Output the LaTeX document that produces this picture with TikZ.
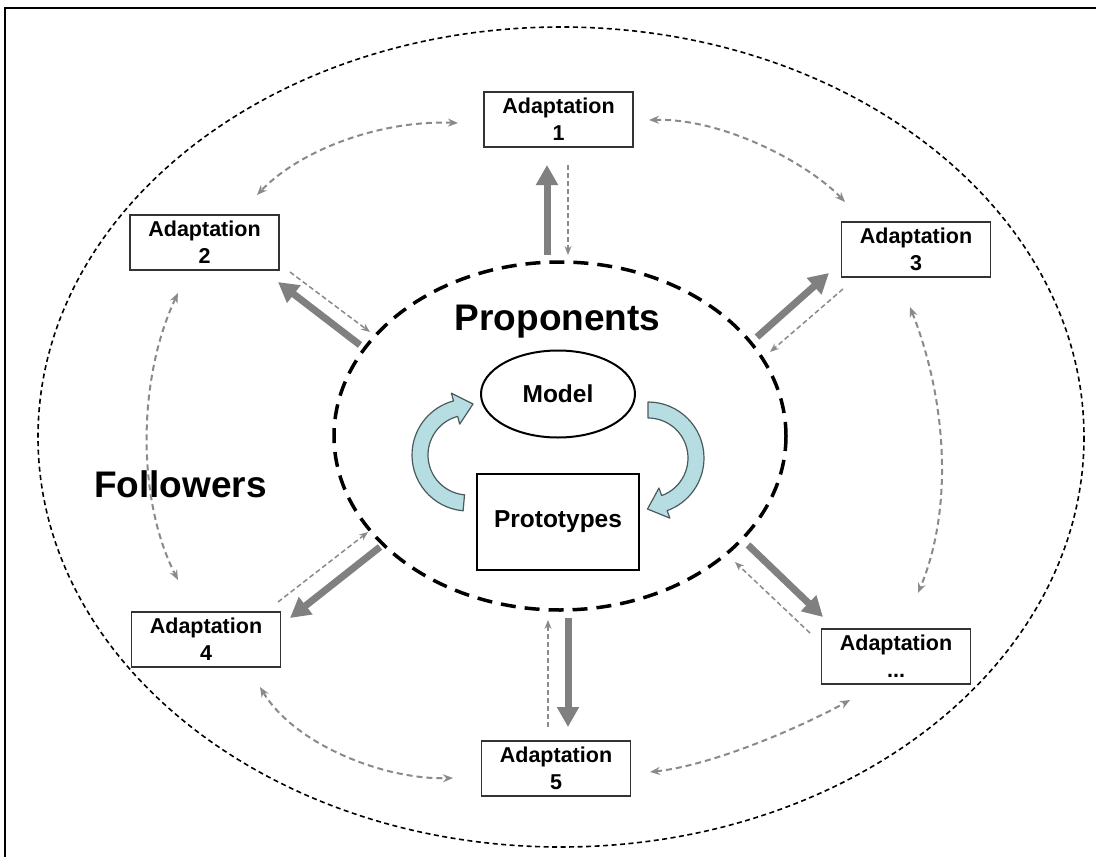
\documentclass[tikz,border=0pt]{standalone}
\usepackage{fontspec}
\setmainfont{Liberation Sans}
\usetikzlibrary{arrows.meta,shapes.geometric}
\definecolor{arrowgray}{HTML}{808080}
\definecolor{dashgray}{HTML}{8A8A8A}
\definecolor{cyanfill}{HTML}{B6DEE2}
\definecolor{cyanline}{HTML}{4A5A5C}
\definecolor{boxline}{HTML}{333333}
\begin{document}
\begin{tikzpicture}[x=1pt,y=-1pt,
  adapt/.style={draw=boxline, line width=1.8pt, fill=white, minimum width=149pt,
    minimum height=55pt, inner sep=0pt, align=center,
    font=\fontsize{21.5}{27}\selectfont\bfseries},
  bigarrow/.style={draw=arrowgray, line width=7pt, -{Triangle[length=20pt,width=21pt]}},
  backarrow/.style={draw=dashgray, line width=1.5pt, dash pattern=on 5pt off 3pt,
    -{Stealth[length=9pt,width=7pt]}},
  linkarrow/.style={draw=dashgray, line width=2pt, dash pattern=on 6pt off 4pt,
    {Stealth[length=10pt,width=8pt]}-{Stealth[length=10pt,width=8pt]}},
  cyanarrow/.style={fill=cyanfill, draw=cyanline, line width=1.2pt, line join=round},
  bigtitle/.style={font=\fontsize{37}{40}\selectfont\bfseries, inner sep=0pt, anchor=base}
]
\useasboundingbox (0,0) rectangle (1096,857);
\fill[white] (0,0) rectangle (1096,857);
% frame
\draw[line width=2.5pt] (5,857) -- (5,8) -- (1096,8);

% outer and inner dashed ellipses
\draw[line width=1.6pt, dash pattern=on 5pt off 3.5pt] (561,437) ellipse [x radius=523, y radius=410];
\draw[line width=3.5pt, dash pattern=on 15pt off 9pt] (560,436) ellipse [x radius=226, y radius=174];

% inner content
\node[ellipse, draw=black, line width=2pt, minimum width=154pt, minimum height=87pt, inner sep=0pt,
  font=\fontsize{24.5}{28}\selectfont\bfseries] (model) at (558,394) {Model};
\node[draw=black, line width=2pt, minimum width=162pt, minimum height=96pt, inner sep=0pt,
  font=\fontsize{24.5}{28}\selectfont\bfseries] (proto) at (558,522) {Prototypes};

% cyan circular arrows
\begin{scope}[shift={(468,455)}]
  \draw[cyanarrow] (95:56) arc[start angle=95, end angle=255, radius=56] -- (255:64)
    -- (5,-51) -- (255:32) -- (255:40) arc[start angle=255, end angle=95, radius=40] -- cycle;
\end{scope}
\begin{scope}[shift={(648,458)}]
  \draw[cyanarrow] (-90:56) arc[start angle=-90, end angle=70, radius=56] -- (70:64)
    -- (-0.5,51) -- (70:32) -- (70:40) arc[start angle=70, end angle=-90, radius=40] -- cycle;
\end{scope}

% titles
\node[bigtitle] (proponents) at (557.5,330) {Proponents};
\node[bigtitle] (followers) at (180.5,497) {Followers};

% adaptation boxes
\node[adapt] (a1) at (558.5,119.5) {Adaptation\\1};
\node[adapt] (a2) at (204.5,242.5) {Adaptation\\2};
\node[adapt] (a3) at (916,249.5) {Adaptation\\3};
\node[adapt] (a4) at (206,639.5) {Adaptation\\4};
\node[adapt] (a5) at (556,768.5) {Adaptation\\5};
\node[adapt] (a6) at (896,656.5) {Adaptation\\...};

% arrow end points
\coordinate (t1s) at (547,255); \coordinate (t1e) at (547,165);
\coordinate (t2s) at (360,345); \coordinate (t2e) at (278,282);
\coordinate (t3s) at (757,337); \coordinate (t3e) at (829,273);
\coordinate (t4s) at (380,547); \coordinate (t4e) at (290,618);
\coordinate (t5s) at (568,618); \coordinate (t5e) at (568,727);
\coordinate (t6s) at (748,545); \coordinate (t6e) at (823,617);

\coordinate (d1s) at (568,165); \coordinate (d1e) at (568,255);
\coordinate (d2s) at (290,272); \coordinate (d2e) at (370,332);
\coordinate (d3s) at (843,289); \coordinate (d3e) at (770,352);
\coordinate (d4s) at (278,602); \coordinate (d4e) at (368,532);
\coordinate (d5s) at (548,727); \coordinate (d5e) at (548,620);
\coordinate (d6s) at (810,633); \coordinate (d6e) at (735,562);

\coordinate (c12a) at (458,123); \coordinate (c12b) at (257,195);
\coordinate (c13a) at (649,120); \coordinate (c13b) at (845,202);
\coordinate (c24a) at (178,293); \coordinate (c24b) at (178,580);
\coordinate (c36a) at (910,307); \coordinate (c36b) at (918,593);
\coordinate (c45a) at (260,687); \coordinate (c45b) at (453,778);
\coordinate (c56a) at (650,772); \coordinate (c56b) at (850,700);

% thick outgoing arrows
\foreach \i in {1,...,6} \draw[bigarrow] (t\i s) -- (t\i e);
% thin dashed return arrows
\foreach \i in {1,...,6} \draw[backarrow] (d\i s) -- (d\i e);

% curved links between adaptations
\draw[linkarrow] (c12a) .. controls (380,120) and (300,150) .. (c12b);
\draw[linkarrow] (c13a) .. controls (725,118) and (810,165) .. (c13b);
\draw[linkarrow] (c24a) .. controls (137,380) and (137,500) .. (c24b);
\draw[linkarrow] (c36a) .. controls (945,395) and (955,505) .. (c36b);
\draw[linkarrow] (c45a) .. controls (295,745) and (385,780) .. (c45b);
\draw[linkarrow] (c56a) .. controls (715,765) and (805,725) .. (c56b);
\end{tikzpicture}
\end{document}
